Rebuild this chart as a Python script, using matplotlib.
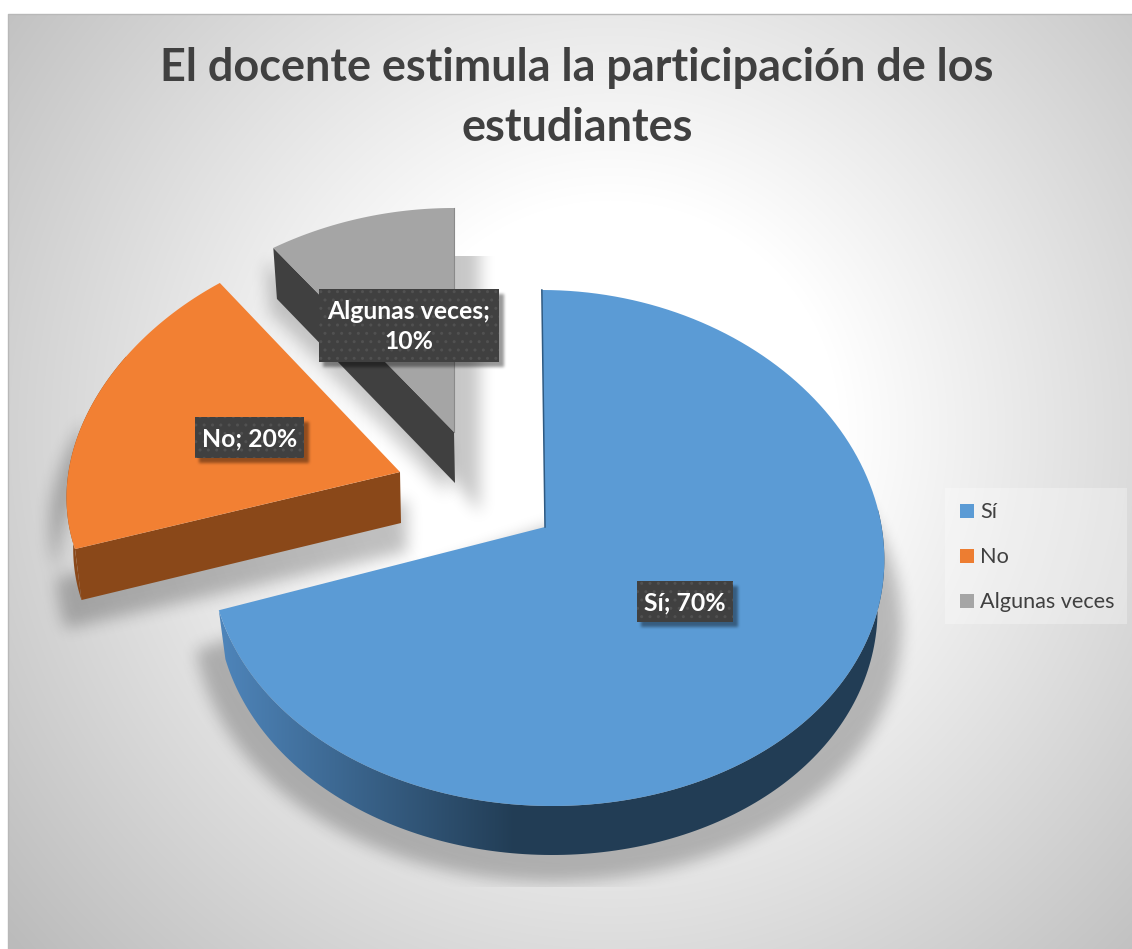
import matplotlib
matplotlib.use('Agg')
import matplotlib.pyplot as plt
import numpy as np
from matplotlib.patches import Polygon, Rectangle
from matplotlib.path import Path

plt.rcParams['font.family'] = ['Lato', 'DejaVu Sans']
plt.rcParams['hatch.linewidth'] = 1.0

# Data
categories = ['Sí', 'No', 'Algunas veces']
values = [70, 20, 10]
title_lines = ['El docente estimula la participación de los', 'estudiantes']
colors = ['#5B9BD5', '#ED7D31', '#A5A5A5']
top_colors = ['#5B9BD5', '#F28033', '#A5A5A5']

W, H = 1132, 949
fig = plt.figure(figsize=(W / 100, H / 100), dpi=100)
ax = fig.add_axes([0, 0, 1, 1])

# Chart area background, white in the middle and grey at the corners
yy, xx = np.mgrid[0:H, 0:W]
dist = np.hypot(xx - 610, yy - 430)
shade = 255 - 68 * np.clip((dist - 230) / 560, 0, 1)
shade[yy < 14] = 255
shade[xx < 8] = 255
bg = np.dstack([shade / 255] * 3)
ax.imshow(bg, extent=(0, W, H, 0), aspect='auto', zorder=0, interpolation='nearest')
ax.plot([8, 8, W], [H, 14, 14], color='#b8b8b8', lw=1, zorder=1)
ax.axis('off')


def reset_limits():
    ax.set_xlim(0, W)
    ax.set_ylim(H, 0)


def blur(a, n):
    k = np.ones(n) / n
    for _ in range(3):
        a = np.apply_along_axis(lambda r: np.convolve(r, k, mode='same'), 1, a)
        a = np.apply_along_axis(lambda r: np.convolve(r, k, mode='same'), 0, a)
    return a


def soft_shadow(pts, alpha, n=11, zorder=2, clip=None):
    x0, x1 = int(max(pts[:, 0].min() - 60, 0)), int(min(pts[:, 0].max() + 60, W))
    y0, y1 = int(max(pts[:, 1].min() - 60, 0)), int(min(pts[:, 1].max() + 60, H))
    gy, gx = np.mgrid[y0:y1, x0:x1]
    grid = np.column_stack([gx.ravel(), gy.ravel()])
    mask = Path(pts).contains_points(grid).reshape(gx.shape).astype(float)
    mask = blur(mask, n)
    rgba = np.zeros(mask.shape + (4,))
    rgba[..., 3] = mask * alpha
    if clip is not None:
        rgba[..., 3] *= clip(gx, gy)
    ax.imshow(rgba, extent=(x0, x1, y1, y0), aspect='auto', zorder=zorder, interpolation='bilinear')


def rim(geo, a0, a1, depth=0, scale=1.0):
    # points of the slice edge, angles clockwise from the top, small perspective widening
    t = np.radians(np.linspace(a0, a1, 160) * geo['stretch'])
    y = geo['cy'] - geo['ry'] * np.cos(t)
    x = geo['cx'] + scale * geo['rx'] * np.sin(t) * (1 - geo['k'] * np.cos(t)) + geo['shear'] * (y - geo['cy'])
    return np.column_stack([x, y + depth])


# Slice angles come from the values
shares = np.array(values) / sum(values)
ends = np.cumsum(shares) * 360
starts = np.r_[0, ends[:-1]]

geos = [
    dict(ax=545, ay=527, cx=547, rx=337, ry=258, cy=548, k=0.03, shear=0.02, stretch=1.016, depth=49),
    dict(ax=400, ay=472, cx=400, rx=332, ry=238, cy=475.5, k=0.095, shear=0, stretch=1, depth=51),
    dict(ax=454, ay=432, cx=454, rx=333, ry=209, cy=417, k=0.095, shear=0, stretch=1, depth=51),
]
LOW = 0.98

tops = []
for i, g in enumerate(geos):
    tops.append(np.vstack([[g['ax'], g['ay']], rim(g, starts[i], ends[i])]))


def cut_face(g, angle):
    # flat side of a slice, between the centre and the edge
    a = rim(g, angle, angle)[0]
    b = rim(g, angle, angle, g['depth'], LOW)[0]
    return np.array([[g['ax'], g['ay']], a, b, [g['ax'] + 1, g['ay'] + g['depth']]])


# Shadows under the slices
g = geos[0]
sh = rim(g, 60, 258, g['depth'])
sh = (sh - [g['cx'], g['cy']]) * [1.05, 1.04] + [g['cx'], g['cy'] + 14]
soft_shadow(np.vstack([[g['ax'], g['ay']], sh]), 0.24, n=15, clip=lambda x, y: (y < 887) * 1.0)

g = geos[1]
sh = np.vstack([[g['ax'], g['ay']], rim(g, 252, 290), rim(g, 252, 290, g['depth'], LOW)[::-1], [[g['ax'] + 1, g['ay'] + g['depth']]]])
sh = (sh - [g['cx'], g['cy']]) * [1.07, 1.0] + [g['cx'] + 6, g['cy'] + 28]
soft_shadow(sh, 0.24, n=15)

g = geos[2]
sh = np.vstack([[g['ax'], g['ay'] + g['depth']], rim(g, ends[1], 360)])
sh = (sh - [g['cx'], g['cy']]) * [1.05, 1.0] + [g['cx'] + 26, g['cy'] + 30]
soft_shadow(sh, 0.22, n=15, clip=lambda x, y: (y > 255) * 1.0)
soft_shadow(cut_face(g, ends[1]) + [-8, 12], 0.2, n=15)

# Sí: outer wall with a horizontal gradient
g = geos[0]
wall = np.vstack([rim(g, 80, ends[0]), rim(g, 80, ends[0], g['depth'], LOW)[::-1]])
wall_patch = Polygon(wall, closed=True, fc='none', ec='none', zorder=5)
ax.add_patch(wall_patch)
grad_x = np.linspace(0, 1, 700)
c0, c1 = np.array([0x4F, 0x86, 0xBC]) / 255, np.array([0x22, 0x3D, 0x55]) / 255
mix = np.clip(grad_x / (300 / 700), 0, 1)[:, None]
grad = (c0 * (1 - mix) + c1 * mix)[None, :, :]
im = ax.imshow(grad, extent=(215, 915, 900, 500), aspect='auto', zorder=5)
im.set_clip_path(wall_patch)

# No and Algunas veces: dark walls
g = geos[1]
no_wall = np.vstack([rim(g, ends[0], 300), rim(g, ends[0], 300, g['depth'], LOW)[::-1]])
ax.add_patch(Polygon(no_wall, closed=True, fc='#8A4819', ec='none', zorder=4))
ax.add_patch(Polygon(cut_face(g, ends[0]), closed=True, fc='#8A4819', ec='none', zorder=4))
g = geos[2]
ax.add_patch(Polygon(cut_face(g, ends[1]), closed=True, fc='#404040', ec='none', zorder=3))

# Slice tops
for i, pts in enumerate(tops):
    ax.add_patch(Polygon(pts, closed=True, fc=top_colors[i], ec='none', zorder=7 - i * 0.5))
g = geos[0]
ax.plot([tops[0][1, 0], g['ax']], [tops[0][1, 1], g['ay']], color='#2F5A82', lw=1.1, zorder=7.5)
g = geos[2]
ax.plot([tops[2][-1, 0], g['ax']], [tops[2][-1, 1], g['ay']], color='#8a8a8a', lw=0.8, zorder=6.5)

# Data labels
label_boxes = [(637, 581, 96, 41), (195, 417, 109, 41), (319, 289, 180, 73)]
label_texts = ['%s; %d%%' % (categories[0], values[0]),
               '%s; %d%%' % (categories[1], values[1]),
               '%s;\n%d%%' % (categories[2], values[2])]
for (x, y, w, h), s in zip(label_boxes, label_texts):
    corners = np.array([[x, y], [x + w, y], [x + w, y + h], [x, y + h]], dtype=float)
    soft_shadow(corners + [4, 4], 0.4, n=3, zorder=8)
    ax.add_patch(Rectangle((x, y), w, h, fc='#404040', ec='#515151', hatch='..', lw=0, zorder=9))
    ax.text(x + w / 2, y + h / 2 + 1, s, color='white', fontsize=17.8, fontweight='bold',
            ha='center', va='center', linespacing=1.35, zorder=10)

# Title
ax.text(577, 68, title_lines[0], color='#404040', fontsize=32.4, fontweight='bold', ha='center', va='center', zorder=10)
ax.text(577, 128, title_lines[1], color='#404040', fontsize=32.4, fontweight='bold', ha='center', va='center', zorder=10)

# Legend
ax.add_patch(Rectangle((945, 488), 182, 136, fc='white', ec='none', alpha=0.3, zorder=3))
for i, (name, col) in enumerate(zip(categories, colors)):
    yc = 511 + 45 * i
    ax.add_patch(Rectangle((960, yc - 7), 14, 14, fc=col, ec='none', zorder=10))
    ax.text(980, yc + 1, name, color='#404040', fontsize=15.6, va='center', ha='left', zorder=10)

reset_limits()
fig.savefig('out.png', dpi=100, facecolor='white')
